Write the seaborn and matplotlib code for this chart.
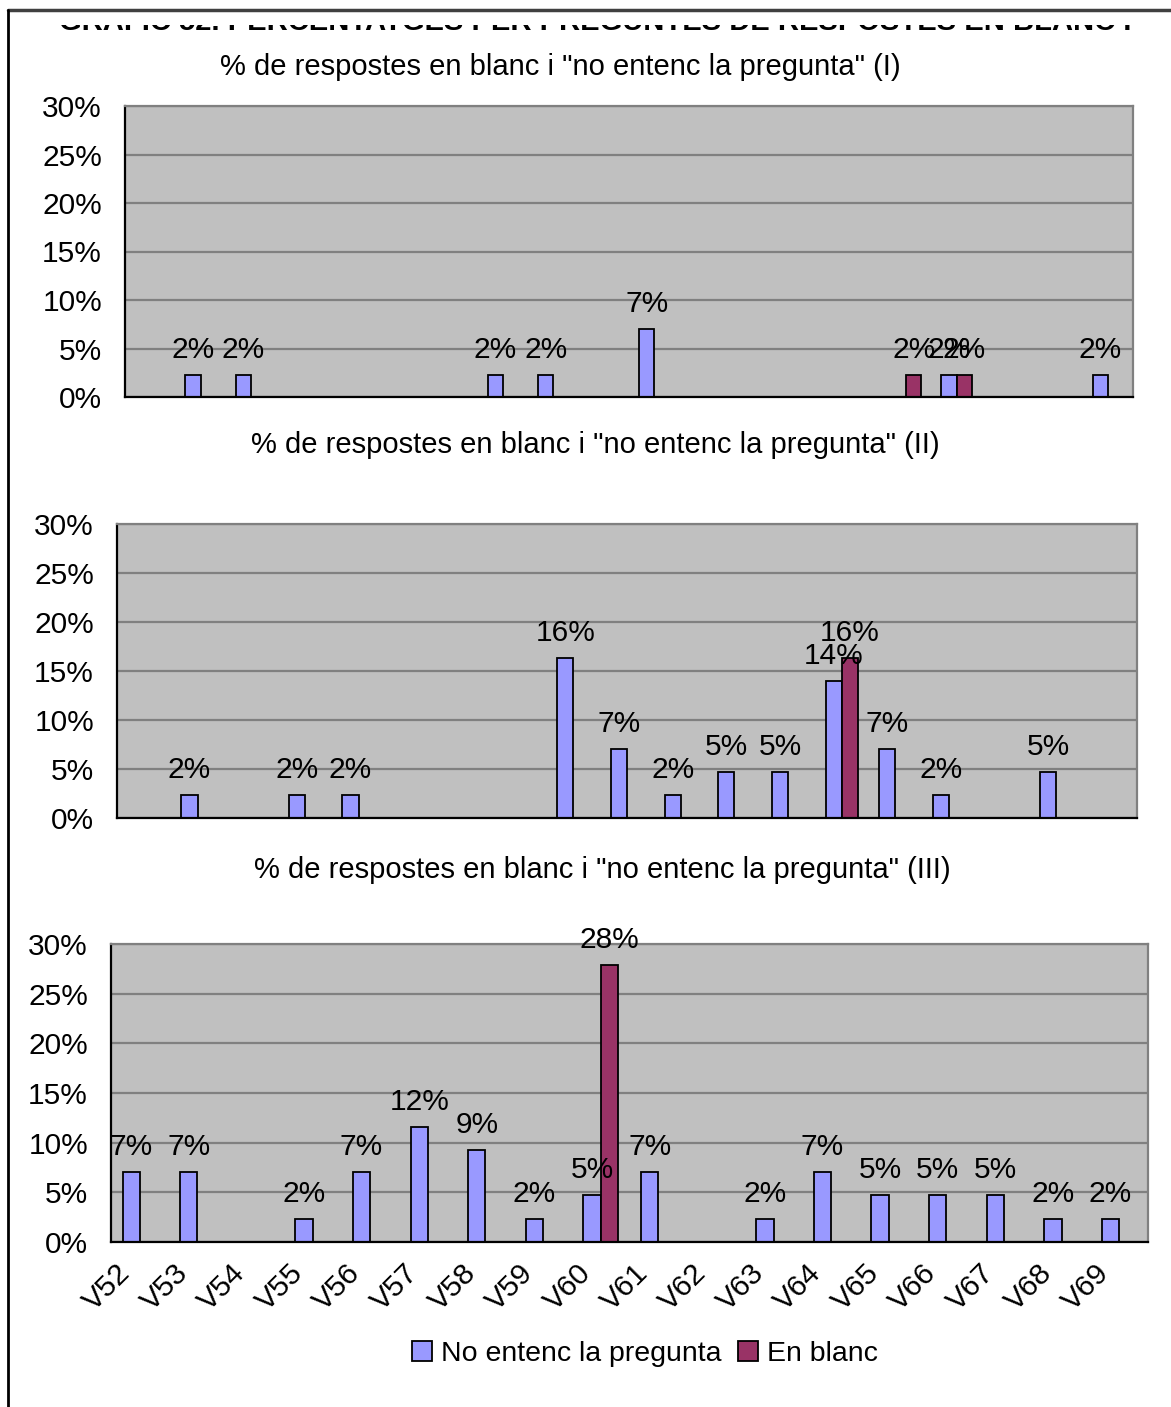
import numpy as np
import pandas as pd
import seaborn as sns
import matplotlib.pyplot as plt
from matplotlib.lines import Line2D
from matplotlib.patches import Rectangle, Patch
from matplotlib.ticker import FuncFormatter
import matplotlib.transforms as mtrans

# ---------------- DATA ------------------
SERIES = ["No entenc la pregunta", "En blanc"]
COLORS = ["#9999FF", "#993366"]

cats1 = ["V13", "V14", "V15", "V16", "V17", "V18", "V19", "V20", "V21", "V22",
         "V23", "V24", "V25", "V26", "V27", "V28", "V29", "V30", "V31", "V32"]
blue1 = [None, 2.3, 2.3, None, None, None, None, 2.3, 2.3, None,
         7.0, None, None, None, None, None, 2.3, None, None, 2.3]
red1 = [None, None, None, None, None, None, None, None, None, None,
        None, None, None, None, None, 2.3, 2.3, None, None, None]

cats2 = ["V33", "V34", "V35", "V36", "V37", "V38", "V39", "V40", "V41", "V42",
         "V43", "V44", "V45", "V46", "V47", "V48", "V49", "V50", "V51"]
blue2 = [None, 2.3, None, 2.3, 2.3, None, None, None, 16.3, 7.0,
         2.3, 4.7, 4.7, 14.0, 7.0, 2.3, None, 4.7, None]
red2 = [None, None, None, None, None, None, None, None, None, None,
        None, None, None, 16.3, None, None, None, None, None]

cats3 = ["V52", "V53", "V54", "V55", "V56", "V57", "V58", "V59", "V60",
         "V61", "V62", "V63", "V64", "V65", "V66", "V67", "V68", "V69"]
blue3 = [7.0, 7.0, None, 2.3, 7.0, 11.6, 9.3, 2.3, 4.7,
         7.0, None, 2.3, 7.0, 4.7, 4.7, 4.7, 2.3, 2.3]
red3 = [None, None, None, None, None, None, None, None, 27.9,
        None, None, None, None, None, None, None, None, None]

titles = ['% de respostes en blanc i "no entenc la pregunta" (I)',
          '% de respostes en blanc i "no entenc la pregunta" (II)',
          '% de respostes en blanc i "no entenc la pregunta" (III)']
main_title = "GRÀFIC 52. PERCENTATGES PER PREGUNTES DE RESPOSTES EN BLANC I"

# ---------------- STYLE ------------------
sns.set_style("white")
plt.rcParams["font.family"] = ["Liberation Sans", "DejaVu Sans"]
plt.rcParams["text.color"] = "black"
plt.rcParams["xtick.color"] = "black"
plt.rcParams["ytick.color"] = "black"
FS = 21.5
FS_T = 21

W, H = 1171, 1407
fig = plt.figure(figsize=(W / 100, H / 100), dpi=100)


def px_box(l, t, r, b):
    return [l / W, 1 - b / H, (r - l) / W, (b - t) / H]


def to_long(cats, blue, red):
    df = pd.DataFrame({
        "cat": cats * 2,
        "serie": [SERIES[0]] * len(cats) + [SERIES[1]] * len(cats),
        "pct": list(blue) + list(red),
    })
    df["pct"] = df["pct"].astype(float)
    return df.dropna()


def draw_panel(box, cats, blue, red, show_labels):
    ax = fig.add_axes(px_box(*box))
    df = to_long(cats, blue, red)
    sns.barplot(data=df, x="cat", y="pct", hue="serie", order=cats,
                hue_order=SERIES, palette=COLORS, saturation=1, width=0.6,
                edgecolor="black", linewidth=1.3, errorbar=None,
                legend=False, ax=ax)
    for c in ax.containers:
        ax.bar_label(c, labels=[f"{v:.0f}%" for v in c.datavalues],
                     padding=8, fontsize=FS, color="black")
    n = len(cats)
    ax.set_facecolor("#C0C0C0")
    ax.set_xlim(-0.5, n - 0.5)
    ax.set_ylim(0, 30)
    ax.set_yticks(range(0, 31, 5))
    ax.yaxis.set_major_formatter(FuncFormatter(lambda v, p: f"{v:.0f}%"))
    ax.yaxis.grid(True, color="#808080", lw=1.6)
    ax.set_axisbelow(True)
    ax.set_xticks(range(n))
    ax.set_xticks(np.arange(-0.5, n), minor=True)
    ax.tick_params(axis="x", which="major", length=0)
    ax.tick_params(axis="x", which="minor", length=7.5, width=1.5,
                   direction="out", color="black")
    ax.tick_params(axis="y", length=7.5, width=1.5, direction="out",
                   color="black", labelsize=FS, pad=9)
    if show_labels:
        ax.set_xticklabels(cats, rotation=45, ha="right",
                           rotation_mode="anchor", fontsize=FS)
        off = mtrans.ScaledTranslation(-24 / 100, -12 / 100, fig.dpi_scale_trans)
        for lab in ax.get_xticklabels():
            lab.set_transform(lab.get_transform() + off)
    else:
        ax.set_xticklabels([])
    ax.set_xlabel("")
    ax.set_ylabel("")
    for s in ["left", "bottom"]:
        ax.spines[s].set_color("black")
        ax.spines[s].set_linewidth(1.6)
    for s in ["top", "right"]:
        ax.spines[s].set_color("#808080")
        ax.spines[s].set_linewidth(1.6)
    return ax


ax1 = draw_panel((125, 106, 1133, 397), cats1, blue1, red1, False)
ax2 = draw_panel((117, 524, 1137, 818), cats2, blue2, red2, False)
ax3 = draw_panel((111, 944, 1148, 1242), cats3, blue3, red3, True)

fig.text(560 / W, 1 - 67 / H, titles[0], ha="center", va="center", fontsize=FS_T)
fig.text(595 / W, 1 - 445 / H, titles[1], ha="center", va="center", fontsize=FS_T)
fig.text(602 / W, 1 - 870 / H, titles[2], ha="center", va="center", fontsize=FS_T)

# cut-off header at the very top (only its lower edge shows)
fig.text(595 / W, 1 - 30 / H, main_title, ha="center", va="baseline",
         fontsize=21, fontweight="bold", zorder=1)
fig.patches.append(Rectangle((0, 1 - 24.5 / H), 1, 24.5 / H, transform=fig.transFigure,
                             facecolor="white", edgecolor="none", zorder=2))

# frame lines
fig.lines.append(Line2D([8 / W, 1], [1 - 10 / H, 1 - 10 / H], transform=fig.transFigure,
                        color="#404040", lw=2.5, zorder=3))
fig.lines.append(Line2D([8 / W, 8 / W], [0, 1 - 10 / H], transform=fig.transFigure,
                        color="black", lw=2, zorder=3))

handles = [Patch(facecolor=COLORS[0], edgecolor="black", lw=1.3),
           Patch(facecolor=COLORS[1], edgecolor="black", lw=1.3)]
fig.legend(handles, SERIES, loc="center", bbox_to_anchor=(645 / W, 1 - 1354 / H),
           ncol=2, frameon=False, fontsize=20.5, handlelength=0.7, handleheight=0.7,
           handletextpad=0.3, columnspacing=0.6)

fig.savefig("out.png", dpi=100, facecolor="white")
